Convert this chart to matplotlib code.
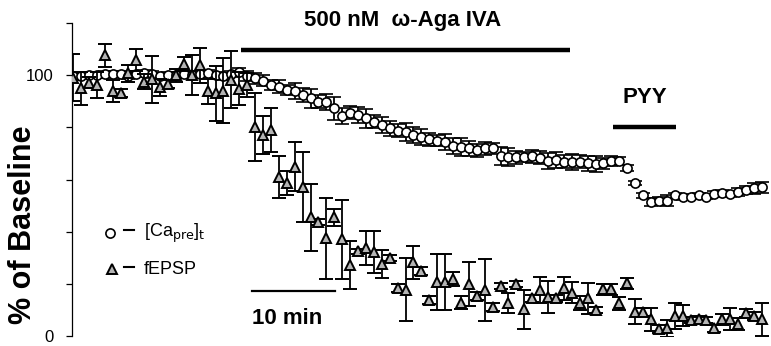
import numpy as np
import matplotlib
matplotlib.use("Agg")
import matplotlib.pyplot as plt

plt.rcParams["font.family"] = ["Liberation Sans", "DejaVu Sans"]

# Sampling interval (min) between points
DT = 0.954

# [Ca_pre]_t, % of baseline
ca_vals = [
    99.5, 99.8, 100.0, 100.0, 100.3, 100.5, 100.3, 99.8, 100.5, 100.8,
    100.3, 99.6, 100.0, 100.2, 100.4, 100.0, 100.5, 100.8, 100.2, 99.5,
    100.5, 101.2, 99.7, 98.8, 97.9, 96.2, 95.6, 94.3, 94.0, 92.4,
    91.1, 89.8, 89.6, 87.3, 84.4, 85.6, 84.7, 83.4, 82.1, 80.9,
    79.6, 78.7, 78.3, 77.0, 76.2, 75.4, 74.9, 74.5, 72.8, 72.6,
    71.9, 71.3, 71.9, 71.9, 69.0, 68.5, 68.5, 68.7, 69.0, 68.3,
    67.2, 67.5, 66.8, 66.8, 66.8, 66.2, 65.9, 66.2, 67.0, 67.0,
    64.3, 58.8, 54.0, 51.5, 51.9, 51.9, 54.0, 53.2, 53.4, 54.0,
    53.4, 54.4, 54.9, 54.4, 55.3, 56.0, 56.6, 57.0,
]
ca_err = [
    1.2, 1.2, 1.2, 1.2, 1.2, 1.2, 1.2, 1.2, 1.2, 1.2,
    1.2, 1.2, 1.2, 1.2, 1.2, 1.2, 1.2, 1.2, 1.2, 1.2,
    1.2, 1.5, 1.8, 2.0, 2.2, 2.0, 2.5, 2.0, 3.0, 2.5,
    3.5, 2.5, 3.0, 4.5, 3.0, 2.5, 3.0, 3.5, 2.5, 3.0,
    3.0, 2.5, 3.5, 3.0, 3.0, 2.5, 2.0, 3.0, 3.0, 3.5,
    3.0, 2.5, 2.5, 2.0, 3.5, 3.5, 2.5, 2.0, 2.5, 2.5,
    3.0, 3.0, 2.5, 3.0, 2.5, 3.0, 3.0, 2.0, 2.0, 1.5,
    1.2, 0.8, 1.0, 1.5, 1.5, 2.0, 1.0, 1.0, 1.0, 1.0,
    1.0, 1.0, 1.2, 1.2, 1.5, 1.5, 2.0, 2.0,
]

# fEPSP, % of baseline
fepsp_vals = [
    99.1, 94.9, 97.1, 96.2, 107.7, 94.0, 93.3, 100.7, 105.8, 97.5,
    98.4, 95.3, 96.6, 100.0, 104.2, 100.0, 103.8, 93.8, 93.0, 94.0,
    98.2, 94.8, 96.2, 80.2, 77.0, 79.0, 61.0, 58.8, 64.9, 57.1,
    45.5, 43.8, 37.4, 45.5, 37.0, 27.4, 32.4, 33.8, 32.2, 27.6,
    30.0, 18.3, 17.8, 28.2, 25.0, 13.8, 20.7, 20.8, 21.7, 12.8,
    20.0, 15.2, 17.6, 11.0, 19.2, 12.5, 19.9, 10.2, 14.4, 17.6,
    14.8, 14.4, 18.3, 16.6, 12.8, 14.4, 10.0, 17.9, 17.9, 12.5,
    20.2, 9.3, 9.3, 6.4, 2.6, 2.9, 7.7, 7.7, 6.1, 6.4,
    6.1, 2.9, 6.4, 6.4, 4.6, 8.7, 7.7, 6.4,
]
fepsp_err = [
    8.9, 6.3, 2.1, 5.0, 4.4, 4.3, 1.5, 3.2, 4.3, 2.9,
    9.0, 3.2, 1.5, 2.5, 2.6, 7.7, 6.7, 4.8, 10.5, 12.4,
    10.9, 6.4, 4.5, 13.0, 7.3, 8.3, 8.0, 4.6, 9.4, 13.4,
    12.8, 1.2, 15.5, 3.3, 15.3, 9.2, 0.8, 6.4, 8.0, 5.4,
    1.2, 1.5, 12.0, 6.4, 1.6, 1.5, 10.8, 10.8, 2.7, 2.6,
    8.5, 1.5, 12.0, 1.5, 1.2, 3.8, 1.2, 7.5, 1.5, 5.1,
    6.1, 1.2, 4.5, 4.1, 2.7, 5.9, 1.2, 2.1, 2.0, 2.4,
    2.0, 4.8, 1.5, 4.5, 1.5, 3.4, 5.0, 4.0, 1.2, 1.2,
    1.2, 1.2, 2.0, 4.2, 2.2, 1.5, 1.5, 6.3,
]

t = np.arange(len(ca_vals)) * DT

fig = plt.figure(figsize=(7.71, 3.46), dpi=100)
ax = fig.add_axes([72 / 771, 10 / 346, 699 / 771, 313 / 346])

common = dict(ecolor="black", elinewidth=1.3, capsize=5, capthick=1.7, linestyle="none")
ax.errorbar(t, ca_vals, yerr=ca_err, fmt="o", ms=6.6, mfc="white", mec="black",
            mew=1.2, zorder=2, **common)
ax.errorbar(t, fepsp_vals, yerr=fepsp_err, fmt="^", ms=7.0, mfc="#b4b4b4", mec="black",
            mew=1.4, zorder=3, **common)

ax.set_xlim(-0.12, 84.1)
ax.set_ylim(0, 120)

# Achsen: nur linke Achse
for side in ("top", "right", "bottom"):
    ax.spines[side].set_visible(False)
ax.spines["left"].set_linewidth(0.9)
ax.set_xticks([])
ax.set_yticks([0, 20, 40, 60, 80, 100, 120])
ax.set_yticklabels(["0", "", "", "", "", "100", ""], fontsize=12)
ax.tick_params(axis="y", direction="out", length=4, width=0.9, pad=9)

ax.set_ylabel("% of Baseline", fontsize=22, fontweight="bold")
ax.yaxis.set_label_coords(-0.048, 0.355)

# Behandlungsbalken
ax.plot([20.3, 59.9], [109.6, 109.6], color="black", lw=3.2, solid_capstyle="butt", clip_on=False)
ax.text(39.7, 121.0, "500 nM  \u03c9-Aga IVA", ha="center", va="center",
        fontsize=16, fontweight="bold", clip_on=False)
ax.plot([65.1, 72.7], [80.2, 80.2], color="black", lw=3.2, solid_capstyle="butt")
ax.text(68.9, 91.3, "PYY", ha="center", va="center", fontsize=16, fontweight="bold")

# Zeitskala
ax.plot([21.6, 31.6], [17.2, 17.2], color="black", lw=1.6)
ax.text(21.6, 6.9, "10 min", ha="left", va="center", fontsize=16, fontweight="bold")

# Legende von Hand
ax.plot([4.5], [39.6], "o", ms=6.6, mfc="white", mec="black", mew=1.2)
ax.plot([6.1, 7.3], [40.6, 40.6], color="black", lw=1.5)
ax.text(8.5, 39.2, r"[Ca$_{\mathrm{pre}}$]$_{\mathrm{t}}$", ha="left", va="center", fontsize=13)
ax.plot([4.7], [25.6], "^", ms=7.0, mfc="#b4b4b4", mec="black", mew=1.4)
ax.plot([6.1, 7.3], [26.6, 26.6], color="black", lw=1.5)
ax.text(8.5, 25.4, "fEPSP", ha="left", va="center", fontsize=13)

fig.savefig("out.png", dpi=100)
